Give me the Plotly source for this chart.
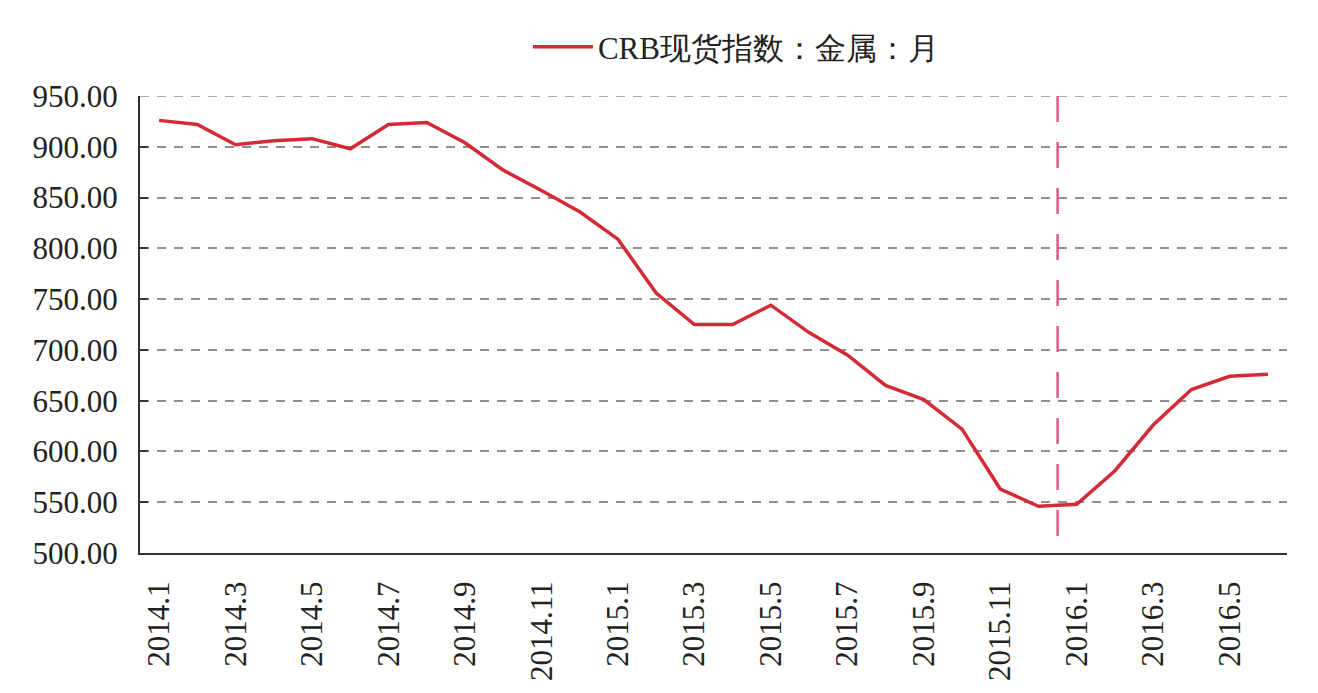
import plotly.graph_objects as go

months = ["2014.1","2014.2","2014.3","2014.4","2014.5","2014.6","2014.7","2014.8","2014.9","2014.10",
          "2014.11","2014.12","2015.1","2015.2","2015.3","2015.4","2015.5","2015.6","2015.7","2015.8",
          "2015.9","2015.10","2015.11","2015.12","2016.1","2016.2","2016.3","2016.4","2016.5","2016.6"]
crb_metal = [926, 922, 902, 906, 908, 898, 922, 924, 904, 877,
             857, 836, 809, 756, 725, 725, 744, 717, 695, 665,
             651, 622, 563, 546, 548, 581, 626, 661, 674, 676]
tick_labels = months[::2]
y_ticks = [500, 550, 600, 650, 700, 750, 800, 850, 900, 950]
series_name = "CRB现货指数：金属：月"
marker_between = ("2015.12", "2016.1")

font_family = "Liberation Serif, Times New Roman, serif"
grid_style = dict(color="#8f8f8f", width=1.5, dash="9px,8px")

fig = go.Figure()
fig.add_trace(go.Scatter(
    x=months, y=crb_metal, mode="lines", name=series_name,
    line=dict(color="#d42a36", width=3.5),
))

# top gridline (plotly omits the gridline on the range edge)
fig.add_shape(type="line", xref="paper", yref="y", x0=0, x1=1, y0=y_ticks[-1], y1=y_ticks[-1],
              line=grid_style, layer="below")

mid = (months.index(marker_between[0]) + months.index(marker_between[1])) / 2
fig.add_shape(type="line", xref="x", yref="y", x0=mid, x1=mid, y0=y_ticks[-1], y1=y_ticks[0],
              line=dict(color="#e05a80", width=2.5, dash="26px,20px"), layer="above")

fig.update_layout(
    width=1318, height=693,
    margin=dict(l=140, r=31, t=96, b=138),
    paper_bgcolor="white", plot_bgcolor="white",
    font=dict(family=font_family, size=31, color="#222222"),
    showlegend=True,
    legend=dict(orientation="h", x=0.52, xanchor="center", y=1.107, yanchor="middle",
                font=dict(size=31, family=font_family), itemwidth=60),
    xaxis=dict(
        type="category", categoryorder="array", categoryarray=months,
        tickmode="array", tickvals=tick_labels, ticktext=tick_labels,
        tickangle=-90, showgrid=False, showline=True, linecolor="#333333", linewidth=2,
        ticks="", ticklabelstandoff=14, range=[-0.5, len(months) - 0.5],
    ),
    yaxis=dict(
        range=[y_ticks[0], y_ticks[-1]], tickmode="array", tickvals=y_ticks,
        ticktext=[f"{v:.2f}" for v in y_ticks],
        showgrid=True, gridcolor=grid_style["color"], griddash=grid_style["dash"],
        gridwidth=grid_style["width"],
        showline=True, linecolor="#333333", linewidth=2,
        ticks="inside", ticklen=8, tickcolor="#333333", tickwidth=2,
        ticklabelstandoff=14, zeroline=False,
    ),
)

fig.write_html("out.html")
